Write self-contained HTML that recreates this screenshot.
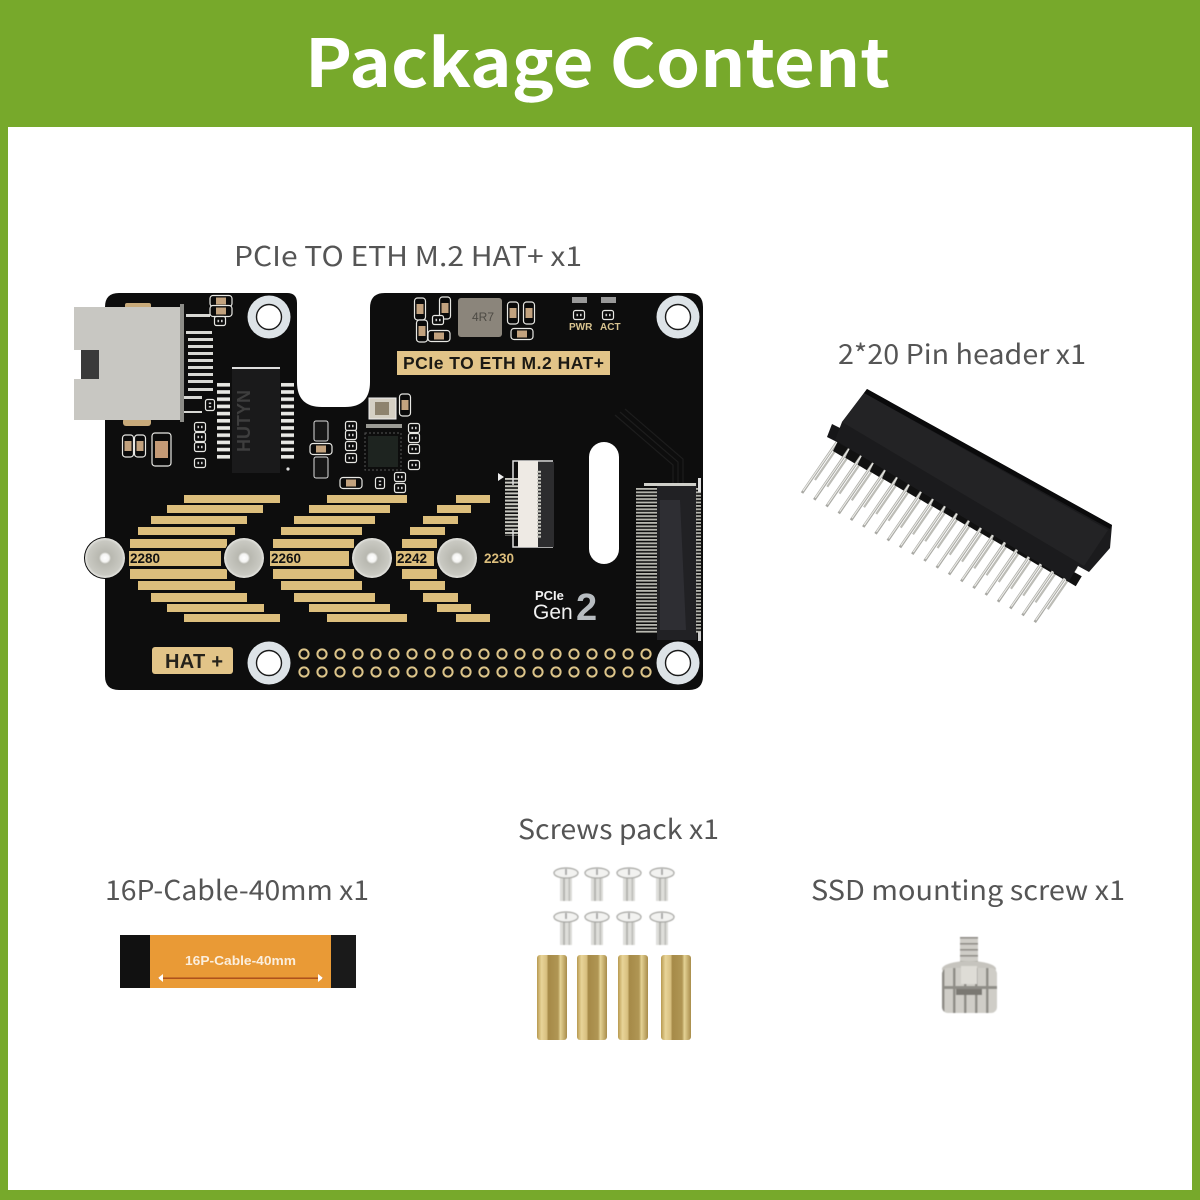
<!DOCTYPE html>
<html lang="en"><head><meta charset="utf-8"><title>Package Content</title>
<style>html,body{margin:0;padding:0;background:#fff}svg{display:block}
.l{font-family:"Noto Sans CJK SC","Liberation Sans",sans-serif;font-size:27px;fill:#555}
.a{font-family:"Liberation Sans",sans-serif;font-weight:bold}
</style></head><body>
<svg width="1200" height="1200" viewBox="0 0 1200 1200" xmlns="http://www.w3.org/2000/svg">
<defs>
<filter id="soft" x="-5%" y="-5%" width="110%" height="110%"><feGaussianBlur stdDeviation="0.6"/></filter>
<linearGradient id="brass" x1="0" x2="1" y1="0" y2="0"><stop offset="0" stop-color="#b89a50"/><stop offset=".15" stop-color="#e8d498"/><stop offset=".32" stop-color="#d8c080"/><stop offset=".38" stop-color="#a68a48"/><stop offset=".7" stop-color="#b09654"/><stop offset=".78" stop-color="#e4d294"/><stop offset="1" stop-color="#a88c4a"/></linearGradient>
<radialGradient id="post" cx=".5" cy=".5" r=".5"><stop offset="0" stop-color="#fff"/><stop offset=".2" stop-color="#f4f4f2"/><stop offset=".3" stop-color="#b8b8b0"/><stop offset=".85" stop-color="#c9c9c2"/><stop offset="1" stop-color="#e6e6e2"/></radialGradient>
<pattern id="holes" x="295" y="645" width="18" height="18" patternUnits="userSpaceOnUse"><circle cx="9" cy="9" r="4.6" fill="#111" stroke="#dcc489" stroke-width="2"/></pattern>
<pattern id="icp" x="0" y="382" width="10" height="7.2" patternUnits="userSpaceOnUse"><rect width="10" height="3.6" y="1" fill="#e8e8e4"/></pattern>
<pattern id="fpc" x="0" y="478" width="10" height="3.6" patternUnits="userSpaceOnUse"><rect width="10" height="2" fill="#c8c8c0"/></pattern>
<pattern id="m2" x="0" y="488" width="10" height="3.4" patternUnits="userSpaceOnUse"><rect width="10" height="1.8" fill="#b8b8b0"/></pattern>
<pattern id="kn" x="942" y="0" width="11" height="10" patternUnits="userSpaceOnUse"><rect width="11" height="10" fill="#cfcdc7"/><rect width="2.5" height="10" fill="#8f8d87"/></pattern>
<pattern id="thr" x="0" y="937" width="10" height="6" patternUnits="userSpaceOnUse"><rect width="10" height="6" fill="#cfcdc7"/><rect width="10" height="1.6" fill="#8d8b85"/></pattern>
<g id="r"><rect x="-5.5" y="-11" width="11" height="22" rx="3" fill="#0a0a0a" stroke="#e8e8e4" stroke-width="1.2"/><rect x="-3.5" y="-5" width="7" height="10" fill="#c2a27e"/></g>
<g id="r0"><rect x="-5.5" y="-4.5" width="11" height="9" rx="2" fill="#0a0a0a" stroke="#e8e8e4" stroke-width="1.2"/><rect x="-2.5" y="-1.2" width="1.6" height="2.4" fill="#ccc"/><rect x="1" y="-1.2" width="1.6" height="2.4" fill="#ccc"/></g>
<g id="wash"><circle r="21.5" fill="#dde3e7"/><circle r="12.5" fill="#fff" stroke="#1a1a1a" stroke-width="1.4"/></g>
<g id="postg"><circle r="21" fill="#0a0a0a"/><circle r="20" fill="url(#post)"/></g>
<g id="pin"><line x1="837" y1="442" x2="802" y2="493" stroke="#a9a9a4" stroke-width="2.8"/><line x1="837" y1="442" x2="803" y2="491" stroke="#ecece8" stroke-width="1.1"/><line x1="844" y1="438" x2="815" y2="480" stroke="#bcbcb6" stroke-width="2.2"/><path d="M832 424l12 6-5 13-12-6z" fill="#161618"/><path d="M838 441l11 6-6 10-10-6z" fill="#111"/></g>
<g id="p5"><use href="#pin"/><use href="#pin" transform="translate(12.25,6.8)"/><use href="#pin" transform="translate(24.5,13.6)"/><use href="#pin" transform="translate(36.75,20.4)"/><use href="#pin" transform="translate(49,27.2)"/></g>
<g id="screw" filter="url(#soft)"><rect x="-6" y="4" width="12" height="25" fill="#dededa"/><rect x="-3" y="4" width="2" height="25" fill="#b4b4b0"/><rect x="2.5" y="4" width="1.6" height="25" fill="#bcbcb8"/><ellipse cy="1" rx="12" ry="5" fill="#f2f2f0" stroke="#a2a29e" stroke-width="1.2"/><rect x="-.8" y="-3" width="1.6" height="6" fill="#999"/></g>
<g id="stand"><rect width="30" height="85" rx="3" fill="url(#brass)"/></g>
</defs>

<rect width="1200" height="1200" fill="#77a92b"/>
<rect x="8" y="127" width="1184" height="1063" fill="#fff"/>
<text x="305" y="87" font-family="'Noto Sans CJK SC','Liberation Sans',sans-serif" font-weight="700" font-size="66" fill="#fff" textLength="585" lengthAdjust="spacingAndGlyphs">Package  Content</text>

<text class="l" x="234" y="266" textLength="348" lengthAdjust="spacingAndGlyphs">PCIe TO ETH M.2 HAT+ x1</text>
<text class="l" x="838" y="364" textLength="248" lengthAdjust="spacingAndGlyphs">2*20 Pin header x1</text>
<text class="l" x="518" y="839" textLength="201" lengthAdjust="spacingAndGlyphs">Screws pack x1</text>
<text class="l" x="105" y="900" textLength="264" lengthAdjust="spacingAndGlyphs">16P-Cable-40mm x1</text>
<text class="l" x="811" y="900" textLength="314" lengthAdjust="spacingAndGlyphs">SSD mounting screw x1</text>

<!-- board -->
<path d="M119 293H287Q297 293 297 303V382Q297 407 322 407H345Q370 407 370 382V308Q370 293 385 293H689Q703 293 703 307V676Q703 690 689 690H119Q105 690 105 676V307Q105 293 119 293Z" fill="#0d0d0d"/>
<rect x="589" y="442" width="30" height="122" rx="15" fill="#fff"/>

<!-- faint traces -->
<g stroke="#1d1d1d" stroke-width="1.2" fill="none"><path d="M615 415l58 50v30M620 412l58 50v30M625 409l58 50v30"/></g>

<!-- RJ45 -->
<rect x="125" y="303" width="26" height="6" rx="2" fill="#c8aa7a"/>
<rect x="123" y="418" width="28" height="8" rx="3" fill="#c8aa7a"/>
<rect x="74" y="307" width="106" height="113" fill="#c8c7c2"/>
<rect x="180" y="304" width="4" height="118" fill="#8d8d88"/>
<rect x="74" y="350" width="7" height="29" fill="#fff"/>
<rect x="81" y="350" width="18" height="29" fill="#3a3a3a"/>
<g fill="#d8d8d4"><rect x="186" y="314" width="24" height="3"/><rect x="186" y="331" width="26" height="3"/><rect x="188" y="338" width="25" height="3"/><rect x="188" y="345" width="25" height="3"/><rect x="188" y="352" width="25" height="3"/><rect x="188" y="359" width="25" height="3"/><rect x="188" y="366" width="25" height="3"/><rect x="188" y="373" width="25" height="3"/><rect x="188" y="380" width="25" height="3"/><rect x="188" y="388" width="25" height="3"/><rect x="184" y="396" width="18" height="3"/><rect x="184" y="411" width="18" height="2"/></g>
<use href="#r" transform="translate(221,301) rotate(90)" />
<use href="#r" transform="translate(221,311) rotate(90)" />
<use href="#r0" transform="translate(220,321)"/>
<use href="#r0" transform="translate(210,405) rotate(90)"/>
<use href="#r0" transform="translate(200,427)"/>
<use href="#r0" transform="translate(200,437)"/>
<use href="#r0" transform="translate(200,447)"/>
<use href="#r0" transform="translate(200,463)"/>

<!-- caps -->
<use href="#r" transform="translate(128,446)"/>
<use href="#r" transform="translate(140,446)"/>
<rect x="152" y="433" width="19" height="33" rx="3" fill="#0a0a0a" stroke="#e8e8e4" stroke-width="1.2"/>
<rect x="155" y="441" width="13" height="17" fill="#c49a76"/>

<!-- transformer -->
<rect x="217" y="382" width="13" height="80" fill="url(#icp)"/>
<rect x="281" y="382" width="13" height="80" fill="url(#icp)"/>
<rect x="232" y="367" width="48" height="106" fill="#1a1a1b"/>
<rect x="232" y="367" width="48" height="2" fill="#ddd"/>
<text x="-452" y="250" transform="rotate(-90)" font-family="Liberation Sans,sans-serif" font-size="18" fill="#3e3e3e" class="a">HUTYN</text>
<circle cx="288" cy="469" r="1.6" fill="#ddd"/>

<!-- mid comps -->
<rect x="314" y="421" width="14" height="20" rx="2" fill="#161616" stroke="#ddd"/>
<rect x="314" y="457" width="14" height="21" rx="2" fill="#161616" stroke="#ddd"/>
<use href="#r" transform="translate(321,449) rotate(90)"/>
<use href="#r" transform="translate(351,483) rotate(90)"/>
<use href="#r0" transform="translate(351,426)"/>
<use href="#r0" transform="translate(351,435)"/>
<use href="#r0" transform="translate(351,446)"/>
<use href="#r0" transform="translate(351,458)"/>
<use href="#r0" transform="translate(380,483) rotate(90)"/>
<use href="#r0" transform="translate(400,477)"/>
<use href="#r0" transform="translate(400,488)"/>
<use href="#r0" transform="translate(414,428)"/>
<use href="#r0" transform="translate(414,438)"/>
<use href="#r0" transform="translate(414,449)"/>
<use href="#r0" transform="translate(414,465)"/>
<rect x="368" y="436" width="30" height="31" fill="#1e2420"/>
<rect x="365" y="433" width="36" height="37" fill="none" stroke="#555" stroke-dasharray="2 2"/>
<rect x="369" y="398" width="27" height="21" fill="#d5d0c4" stroke="#eee"/>
<rect x="375" y="402" width="14" height="13" fill="#8e836e"/>
<use href="#r" transform="translate(405,405)"/>
<rect x="366" y="424" width="36" height="4" fill="#9a9a94"/>

<!-- top parts -->
<use href="#r" transform="translate(420,309)"/>
<use href="#r" transform="translate(445,308)"/>
<use href="#r" transform="translate(422,331)"/>
<use href="#r" transform="translate(439,336) rotate(90)"/>
<use href="#r0" transform="translate(438,320)"/>
<rect x="458" y="298" width="44" height="39" rx="3" fill="#8b857b"/>
<text x="472" y="321" font-family="Liberation Sans,sans-serif" font-size="12" fill="#4d4a44">4R7</text>
<use href="#r" transform="translate(513,313)"/>
<use href="#r" transform="translate(529,313)"/>
<use href="#r" transform="translate(522,334) rotate(90)"/>
<use href="#r0" transform="translate(579,315)"/>
<use href="#r0" transform="translate(608,315)"/>
<rect x="572" y="297" width="15" height="6" fill="#999"/><rect x="601" y="297" width="15" height="6" fill="#999"/>
<text x="569" y="330" class="a" font-size="10" fill="#d9c48f">PWR</text>
<text x="600" y="330" class="a" font-size="10" fill="#d9c48f">ACT</text>

<!-- label -->
<rect x="397" y="351" width="213" height="24" fill="#e2c488"/>
<text x="403" y="369" class="a" font-size="17.5" fill="#1c1a14" textLength="201">PCIe TO ETH M.2 HAT+</text>

<!-- gold bars -->
<g fill="#dcbe7c">
<rect x="184" y="495" width="96" height="8"/><rect x="167" y="505" width="96" height="8"/><rect x="151" y="516" width="96" height="8"/><rect x="138" y="527" width="97" height="8"/><rect x="130" y="539" width="97" height="9"/><rect x="129" y="551" width="92" height="15"/><rect x="130" y="569" width="97" height="10"/><rect x="138" y="581" width="97" height="9"/><rect x="151" y="593" width="96" height="9"/><rect x="167" y="604" width="97" height="8"/><rect x="184" y="614" width="96" height="8"/>
<rect x="327" y="495" width="80" height="8"/><rect x="309" y="505" width="81" height="8"/><rect x="294" y="516" width="81" height="8"/><rect x="281" y="527" width="81" height="8"/><rect x="273" y="539" width="81" height="9"/><rect x="270" y="551" width="79" height="15"/><rect x="273" y="569" width="81" height="10"/><rect x="281" y="581" width="81" height="9"/><rect x="294" y="593" width="81" height="9"/><rect x="309" y="604" width="81" height="8"/><rect x="327" y="614" width="80" height="8"/>
<rect x="456" y="495" width="34" height="8"/><rect x="437" y="505" width="34" height="8"/><rect x="423" y="516" width="35" height="8"/><rect x="410" y="527" width="35" height="8"/><rect x="402" y="539" width="35" height="9"/><rect x="396" y="551" width="38" height="15"/><rect x="402" y="569" width="35" height="10"/><rect x="410" y="581" width="35" height="9"/><rect x="423" y="593" width="35" height="9"/><rect x="437" y="604" width="34" height="8"/><rect x="456" y="614" width="34" height="8"/>
</g>
<g class="a" font-size="13.5" fill="#111"><text x="130" y="563">2280</text><text x="271" y="563">2260</text><text x="397" y="563">2242</text></g>
<text x="484" y="563" class="a" font-size="13.5" fill="#dcbe7c">2230</text>
<use href="#postg" x="105" y="558"/>
<use href="#postg" x="244" y="558"/>
<use href="#postg" x="372" y="558"/>
<use href="#postg" x="457" y="558"/>

<!-- FPC -->
<rect x="505" y="478" width="13" height="58" fill="url(#fpc)"/>
<path d="M513 485V461H553" fill="none" stroke="#ddd" stroke-width="1.5"/>
<path d="M513 530V547H553" fill="none" stroke="#ddd" stroke-width="1.5"/>
<rect x="518" y="461" width="20" height="86" fill="#eeeae4"/>
<rect x="538" y="462" width="16" height="85" fill="#2c2c2e"/>
<rect x="537" y="470" width="4" height="68" fill="url(#fpc)"/>
<path d="M498 473l6 4-6 4z" fill="#eee"/>

<!-- M.2 -->
<rect x="636" y="488" width="21" height="146" fill="url(#m2)"/>
<rect x="657" y="483" width="40" height="157" fill="#212124"/>
<rect x="644" y="483" width="52" height="3" fill="#cfcfc9"/>
<rect x="696" y="488" width="5" height="146" fill="url(#m2)"/>
<path d="M660 500h20l6 130h-26z" fill="#2e2e33"/>
<rect x="698" y="478" width="3" height="14" fill="#ddd"/>
<rect x="698" y="632" width="3" height="9" fill="#ccc"/>

<!-- gen -->
<text x="535" y="600" class="a" font-size="13" fill="#f0f0f0">PCIe</text>
<text x="533" y="619" font-family="Liberation Sans,sans-serif" font-size="21" fill="#f0f0f0">Gen</text>
<text x="576" y="620" class="a" font-size="38" fill="#b7bcc0">2</text>

<!-- HAT -->
<rect x="152" y="647" width="81" height="27" rx="3" fill="#e2c488"/>
<text x="165" y="668" font-family="Liberation Sans,sans-serif" font-size="20" font-weight="bold" fill="#26231b" textLength="58">HAT +</text>
<rect x="295" y="645" width="360" height="36" fill="url(#holes)"/>
<use href="#wash" x="269" y="317"/><use href="#wash" x="678" y="317"/><use href="#wash" x="269" y="663"/><use href="#wash" x="678" y="663"/>

<!-- header -->
<use href="#p5"/><use href="#p5" transform="translate(61.25,34)"/><use href="#p5" transform="translate(122.5,68)"/><use href="#p5" transform="translate(183.75,102)"/>
<polygon points="867,389 1112,525 1110,548 1089,572 1078,566 1069,581 835,440 842,422" fill="#1b1b1d"/>
<polygon points="867,389 1112,525 1110,529 864,393" fill="#0a0a0b"/>
<polygon points="842,422 864,393 1108,530 1084,566" fill="#232325"/>

<!-- cable -->
<rect x="120" y="935" width="32" height="53" fill="#111"/>
<rect x="331" y="935" width="25" height="53" fill="#1a1a1a"/>
<rect x="150" y="935" width="181" height="53" fill="#e99a36"/>
<text x="185" y="965" class="a" font-size="12.5" fill="#fbeedd" textLength="111" lengthAdjust="spacingAndGlyphs">16P-Cable-40mm</text>
<rect x="158" y="977.5" width="165" height="1.4" fill="#a84a1a"/>
<path d="M158 978l5-4v8zM323 978l-5-4v8z" fill="#fff"/>

<!-- screws -->
<use href="#screw" x="566" y="872"/><use href="#screw" x="597" y="872"/><use href="#screw" x="629" y="872"/><use href="#screw" x="662" y="872"/>
<use href="#screw" x="566" y="916"/><use href="#screw" x="597" y="916"/><use href="#screw" x="629" y="916"/><use href="#screw" x="662" y="916"/>
<use href="#stand" x="537" y="955"/><use href="#stand" x="577" y="955"/><use href="#stand" x="618" y="955"/><use href="#stand" x="661" y="955"/>

<!-- thumb screw -->
<g filter="url(#soft)">
<rect x="960" y="937" width="18" height="36" fill="url(#thr)"/>
<ellipse cx="969" cy="969" rx="27" ry="8" fill="#c6c4be"/>
<rect x="942" y="968" width="55" height="45" rx="6" fill="url(#kn)"/>
<rect x="942" y="986" width="55" height="3" fill="#8f8d87"/>
<rect x="956" y="989" width="26" height="6" fill="#7a7872"/>
<rect x="961" y="966" width="16" height="18" fill="#dedcd6"/>
</g>
</svg>
</body></html>
